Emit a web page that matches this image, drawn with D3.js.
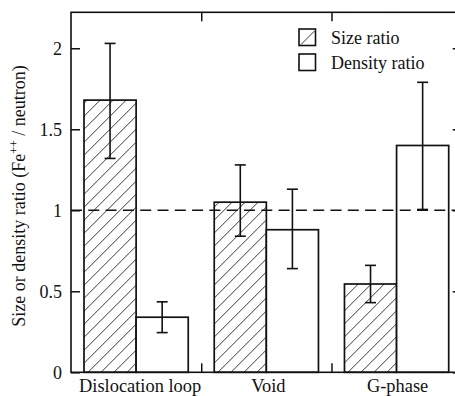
<!DOCTYPE html>
<html>
<head>
<meta charset="utf-8">
<script src="https://cdn.jsdelivr.net/npm/d3@7"></script>
</head>
<body style="margin:0;padding:0;background:#fff">
<script>
// Ratio of Fe++ ion-irradiated to neutron-irradiated microstructure features
const categories = ["Dislocation loop", "Void", "G-phase"];
const sizeRatio = [1.68, 1.05, 0.545];
const sizeErrLow = [1.32, 0.84, 0.43];
const sizeErrHigh = [2.03, 1.28, 0.66];
const densityRatio = [0.34, 0.88, 1.40];
const densityErrLow = [0.245, 0.64, 1.005];
const densityErrHigh = [0.435, 1.13, 1.79];
const seriesNames = ["Size ratio", "Density ratio"];
const yTicks = [0, 0.5, 1, 1.5, 2];
const referenceLevel = 1;

const FONT = "'Liberation Serif'";
const INK = "#111";

const W = 455, H = 396;
const margin = { top: 12.3, left: 71, bottom: H - 372.3 };
const plotRight = 461.7;               // frame runs slightly past the canvas edge
const plotW = plotRight - margin.left;
const plotH = H - margin.top - margin.bottom;

const svg = d3.select("body").append("svg")
  .attr("width", W).attr("height", H)
  .style("display", "block");

const defs = svg.append("defs");
const hatch = defs.append("pattern")
  .attr("id", "hatch")
  .attr("patternUnits", "userSpaceOnUse")
  .attr("width", 13).attr("height", 13);
hatch.append("rect").attr("width", 13).attr("height", 13).attr("fill", "#fff");
hatch.append("path")
  .attr("d", "M0,13 L13,0 M-3,3 L3,-3 M10,16 L16,10")
  .attr("stroke", "#222").attr("stroke-width", 0.9);

const g = svg.append("g").attr("transform", `translate(${margin.left},${margin.top})`);

const x = d3.scaleBand().domain(categories).range([0, plotW]).paddingInner(0).paddingOuter(0);
const xSub = d3.scaleBand().domain(seriesNames).range([13, x.bandwidth() - 13]).padding(0);
const y = d3.scaleLinear().domain([0, 2.222]).range([plotH, 0]);

const rows = categories.map((c, i) => [
  { cat: c, series: seriesNames[0], v: sizeRatio[i], lo: sizeErrLow[i], hi: sizeErrHigh[i] },
  { cat: c, series: seriesNames[1], v: densityRatio[i], lo: densityErrLow[i], hi: densityErrHigh[i] }
]).flat();

// bars
g.selectAll("rect.bar").data(rows).join("rect")
  .attr("class", "bar")
  .attr("x", d => x(d.cat) + xSub(d.series))
  .attr("width", xSub.bandwidth())
  .attr("y", d => y(d.v))
  .attr("height", d => plotH - y(d.v))
  .attr("fill", d => d.series === seriesNames[0] ? "url(#hatch)" : "#fff")
  .attr("stroke", INK).attr("stroke-width", 1.7);

// dashed reference line at ratio = 1
g.append("line")
  .attr("x1", 0).attr("x2", plotW)
  .attr("y1", y(referenceLevel)).attr("y2", y(referenceLevel))
  .attr("stroke", INK).attr("stroke-width", 1.6)
  .attr("stroke-dasharray", "11,6.3");

// error bars
const cap = 5.5;
const eb = g.selectAll("g.err").data(rows).join("g").attr("class", "err")
  .attr("transform", d => `translate(${x(d.cat) + xSub(d.series) + xSub.bandwidth() / 2},0)`)
  .attr("stroke", INK).attr("stroke-width", 1.6);
eb.append("line").attr("y1", d => y(d.lo)).attr("y2", d => y(d.hi));
eb.append("line").attr("x1", -cap).attr("x2", cap).attr("y1", d => y(d.hi)).attr("y2", d => y(d.hi));
eb.append("line").attr("x1", -cap).attr("x2", cap).attr("y1", d => y(d.lo)).attr("y2", d => y(d.lo));

// axes
const fmt = d => d3.format("")(d);
const yAxis = g.append("g")
  .call(d3.axisLeft(y).tickValues(yTicks).tickSize(-9).tickPadding(9).tickFormat(fmt));
const yAxisR = g.append("g").attr("transform", `translate(${plotW},0)`)
  .call(d3.axisRight(y).tickValues(yTicks).tickSize(-9).tickFormat(""));

const bounds = categories.slice(1).map(c => x(c));
const xAxis = g.append("g").attr("transform", `translate(0,${plotH})`)
  .call(d3.axisBottom(x).tickSize(0).tickPadding(7));
const linear = d3.scaleLinear().domain([0, plotW]).range([0, plotW]);
const xBoundsB = g.append("g").attr("transform", `translate(0,${plotH})`)
  .call(d3.axisBottom(linear).tickValues(bounds).tickSize(-9).tickFormat(""));
const xBoundsT = g.append("g")
  .call(d3.axisTop(linear).tickValues(bounds).tickSize(-9).tickFormat(""));

[yAxis, yAxisR, xAxis, xBoundsB, xBoundsT].forEach(a => {
  a.attr("font-family", null).attr("font-size", null);
  a.select(".domain").remove();
  a.selectAll("line").attr("stroke", INK).attr("stroke-width", 1.5);
  a.selectAll("text").style("font-size", "18px").style("font-family", FONT).attr("fill", INK);
});
// category labels sit a touch right of the band centres
const labelNudge = [4, 2, 1];
xAxis.selectAll("text").style("font-size", "18.4px").attr("dx", (d, i) => labelNudge[i]);

// frame
g.append("rect").attr("x", 0).attr("y", 0).attr("width", plotW).attr("height", plotH)
  .attr("fill", "none").attr("stroke", INK).attr("stroke-width", 1.6);

// y axis title
const yt = svg.append("text")
  .attr("transform", `translate(25,196) rotate(-90)`)
  .attr("text-anchor", "middle")
  .style("font-family", FONT).style("font-size", "18px").attr("fill", INK);
yt.append("tspan").text("Size or density ratio (Fe");
yt.append("tspan").style("font-size", "12px").attr("dy", -7).text("++");
yt.append("tspan").attr("dy", 7).text(" / neutron)");

// legend
const legend = svg.append("g").attr("transform", "translate(299,29)");
const sw = 16.5;
seriesNames.forEach((s, i) => {
  const row = legend.append("g").attr("transform", `translate(0,${i * 25})`);
  row.append("rect").attr("width", sw).attr("height", sw)
    .attr("fill", "#fff").attr("stroke", INK).attr("stroke-width", 1.6);
  if (i === 0) {
    row.append("line").attr("x1", 2).attr("y1", sw - 1).attr("x2", sw - 1).attr("y2", 2)
      .attr("stroke", "#222").attr("stroke-width", 0.9);
  }
  row.append("text").attr("x", 32).attr("y", 15)
    .style("font-family", FONT).style("font-size", "18px").attr("fill", INK).text(s);
});
</script>
</body>
</html>
